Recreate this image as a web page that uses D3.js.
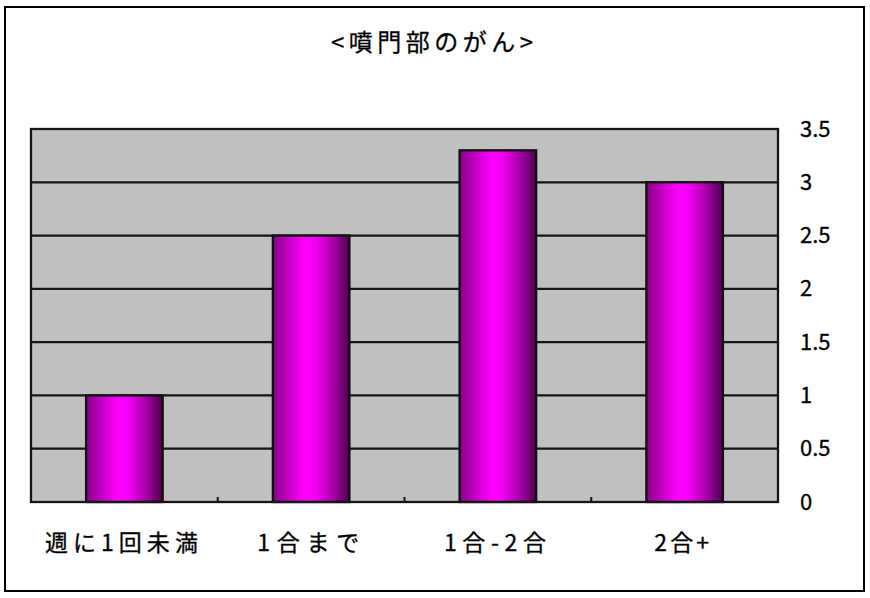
<!DOCTYPE html>
<html>
<head>
<meta charset="utf-8">
<script src="https://cdn.jsdelivr.net/npm/d3@7"></script>
<style>
  html, body { margin: 0; padding: 0; background: #fff; }
  svg { display: block; }
  text { font-family: "Noto Sans CJK JP", "Noto Sans", sans-serif; fill: #000; }
</style>
</head>
<body>
<svg id="chart" width="870" height="598"></svg>
<script>
const title = "<噴門部のがん>";
const categories = ["週に1回未満", "1合まで", "1合-2合", "2合+"];
const values = [1.0, 2.5, 3.3, 3.0];
const yTicks = [0, 0.5, 1, 1.5, 2, 2.5, 3, 3.5];
const labelWidths = [153, 102, 102, 55];

const svg = d3.select("#chart");
const plot = { left: 31, right: 778, top: 129, bottom: 502 };

// outer frame
svg.append("rect").attr("x", 5).attr("y", 7).attr("width", 859).attr("height", 584)
  .attr("fill", "#fff").attr("stroke", "#000").attr("stroke-width", 2);

const x = d3.scaleBand().domain(categories).range([plot.left, plot.right]).paddingInner(0.59).paddingOuter(0.295);
const xb = d3.scaleBand().domain(categories).range([plot.left, plot.right]).padding(0);
const y = d3.scaleLinear().domain([0, 3.5]).range([plot.bottom, plot.top]);

// gradient
const defs = svg.append("defs");
const g = defs.append("linearGradient").attr("id", "barGrad").attr("x1", "0%").attr("x2", "100%").attr("y1", "0%").attr("y2", "0%");
[["0%", "#850085"], ["20%", "#c400c4"], ["42%", "#ff00ff"], ["55%", "#f500f5"], ["80%", "#a300a3"], ["100%", "#4a004a"]]
  .forEach(([o, c]) => g.append("stop").attr("offset", o).attr("stop-color", c));

// plot background
svg.append("rect").attr("x", plot.left).attr("y", plot.top)
  .attr("width", plot.right - plot.left).attr("height", plot.bottom - plot.top)
  .attr("fill", "#c0c0c0");

// gridlines
svg.append("g").selectAll("line").data(yTicks.filter(t => t > 0 && t < 3.5)).join("line")
  .attr("x1", plot.left).attr("x2", plot.right)
  .attr("y1", d => y(d)).attr("y2", d => y(d))
  .attr("stroke", "#151515").attr("stroke-width", 2.3);

// category boundary ticks
svg.append("g").selectAll("line").data(categories.slice(1)).join("line")
  .attr("x1", d => xb(d)).attr("x2", d => xb(d))
  .attr("y1", plot.bottom).attr("y2", plot.bottom - 5)
  .attr("stroke", "#151515").attr("stroke-width", 2);

// bars
svg.append("g").selectAll("rect").data(values).join("rect")
  .attr("x", (d, i) => x(categories[i]))
  .attr("y", d => y(d))
  .attr("width", x.bandwidth())
  .attr("height", d => y(0) - y(d))
  .attr("fill", "url(#barGrad)")
  .attr("stroke", "#111").attr("stroke-width", 2.3);

// plot border
svg.append("rect").attr("x", plot.left).attr("y", plot.top)
  .attr("width", plot.right - plot.left).attr("height", plot.bottom - plot.top)
  .attr("fill", "none").attr("stroke", "#151515").attr("stroke-width", 2.3);

// right axis
const yAxis = d3.axisRight(y).tickValues(yTicks).tickSize(0).tickPadding(22)
  .tickFormat(d => String(d));
const ya = svg.append("g").attr("transform", `translate(${plot.right},0)`).call(yAxis);
ya.select(".domain").remove();
ya.selectAll("text").attr("font-size", 22).attr("font-family", "Noto Sans CJK JP").attr("fill", "#000")
  .attr("stroke", "#000").attr("stroke-width", 0.3);

// category labels
svg.append("g").selectAll("text").data(categories).join("text")
  .attr("x", d => xb(d) + xb.bandwidth() / 2 - 3)
  .attr("y", 543)
  .attr("dy", "0.35em")
  .attr("text-anchor", "middle")
  .attr("font-size", 23)
  .attr("stroke", "#000").attr("stroke-width", 0.3)
  .attr("textLength", (d, i) => labelWidths[i])
  .attr("lengthAdjust", "spacing")
  .text(d => d);

// title
svg.append("text").attr("x", 432).attr("y", 43).attr("dy", "0.35em")
  .attr("text-anchor", "middle").attr("font-size", 24)
  .attr("stroke", "#000").attr("stroke-width", 0.3)
  .attr("textLength", 202).attr("lengthAdjust", "spacing")
  .text(title);
</script>
</body>
</html>
